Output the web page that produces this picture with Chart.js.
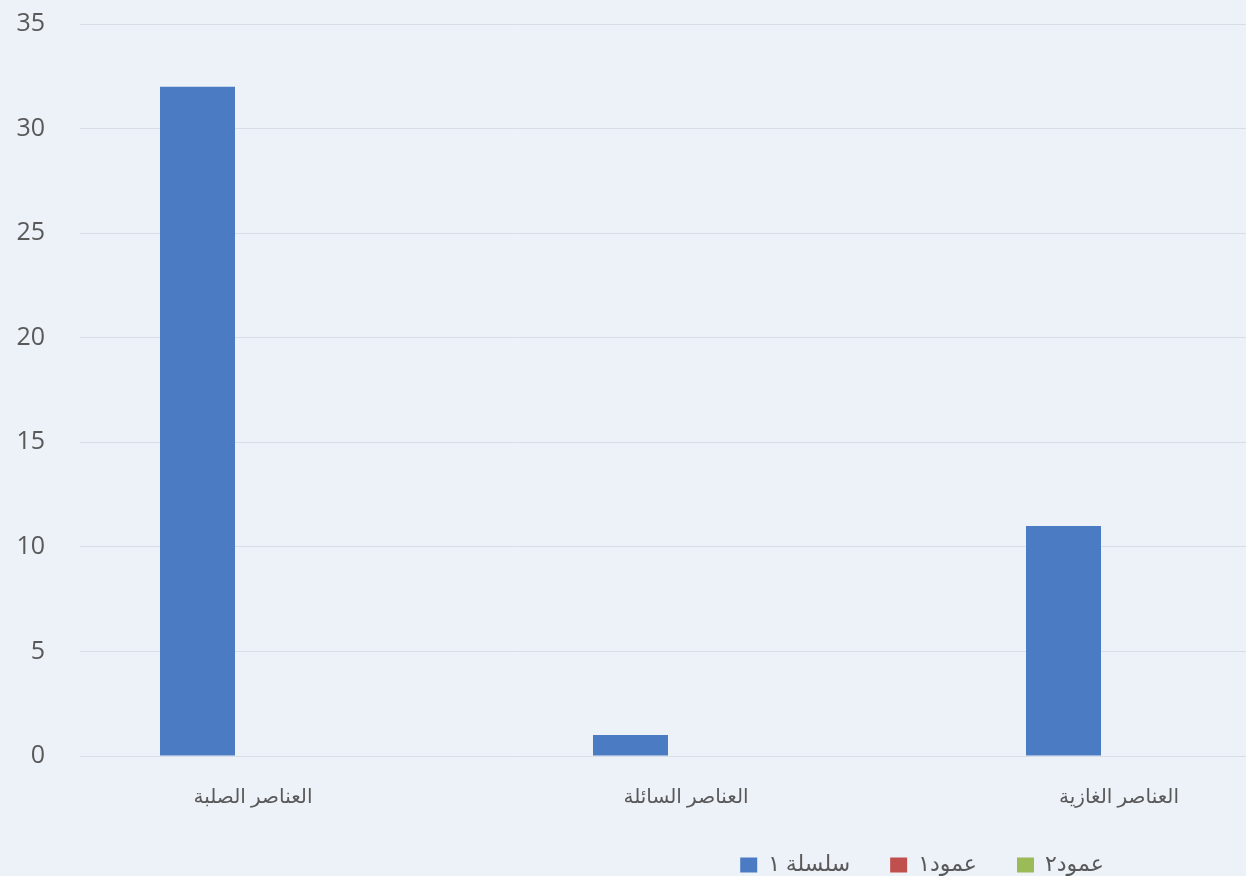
<!DOCTYPE html>
<html lang="ar">
<head>
<meta charset="utf-8">
<title>Chart</title>
<script src="https://cdn.jsdelivr.net/npm/chart.js@4/dist/chart.umd.min.js"></script>
<style>
  html, body { margin: 0; padding: 0; overflow: hidden; background: #edf2f9; width: 1246px; height: 876px; }
  #wrap { position: absolute; left: 0; top: 0; width: 1246px; height: 876px; overflow: hidden; }
  canvas { display: block; }
</style>
</head>
<body>
<div id="wrap"><canvas id="c" width="1830" height="886"></canvas></div>
<script>
// ---- data ----
const categories = ['العناصر الصلبة', 'العناصر السائلة', 'العناصر الغازية'];
const seriesNames = ['سلسلة ١', 'عمود١', 'عمود٢'];
const series1 = [32, 1, 11];
const series2 = [null, null, null];
const series3 = [null, null, null];
const yTicks = [0, 5, 10, 15, 20, 25, 30, 35];

const colors = ['#4a7bc3', '#c0504d', '#9bbb59'];
const allSeries = [series1, series2, series3];

const datasets = allSeries.map((vals, k) => ({
  label: seriesNames[k],
  data: vals.map((v, i) => ({ x: i, y: v })),
  backgroundColor: colors[k],
  borderWidth: 0,
  categoryPercentage: 0.3845,
  barPercentage: 1.3514
}));

const textColor = '#595959';
const fontFamily = "'Open Sans', 'DejaVu Sans', sans-serif";

new Chart(document.getElementById('c'), {
  type: 'bar',
  data: { datasets },
  options: {
    responsive: false,
    animation: false,
    devicePixelRatio: 1,
    layout: { padding: { left: 14, top: 24, right: 0, bottom: 0 } },
    plugins: {
      tooltip: { enabled: false },
      legend: {
        position: 'bottom',
        align: 'center',
        labels: {
          boxWidth: 17,
          boxHeight: 15,
          padding: 40,
          color: textColor,
          font: { family: fontFamily, size: 22 }
        }
      }
    },
    scales: {
      x: {
        type: 'linear',
        offset: false,
        min: -0.3995,
        max: 3.642,
        grid: { display: false, drawTicks: false },
        border: { display: false },
        afterBuildTicks: (scale) => { scale.ticks = categories.map((_, i) => ({ value: i })); },
        afterFit: (scale) => { scale.height = 58; },
        ticks: {
          padding: 29,
          maxRotation: 0,
          autoSkip: false,
          color: textColor,
          font: { family: fontFamily, size: 20 },
          callback: (v) => categories[v] !== undefined ? categories[v] : ''
        }
      },
      y: {
        min: 0,
        max: 35,
        afterBuildTicks: (scale) => { scale.ticks = yTicks.map(v => ({ value: v })); },
        afterFit: (scale) => { scale.width = 66; scale.paddingTop = 0; scale.paddingBottom = 0; },
        grid: { color: '#d8dee7', lineWidth: 1, drawTicks: false },
        border: { display: false },
        ticks: {
          padding: 35,
          color: textColor,
          font: { family: fontFamily, size: 25 }
        }
      }
    }
  }
});
</script>
</body>
</html>
